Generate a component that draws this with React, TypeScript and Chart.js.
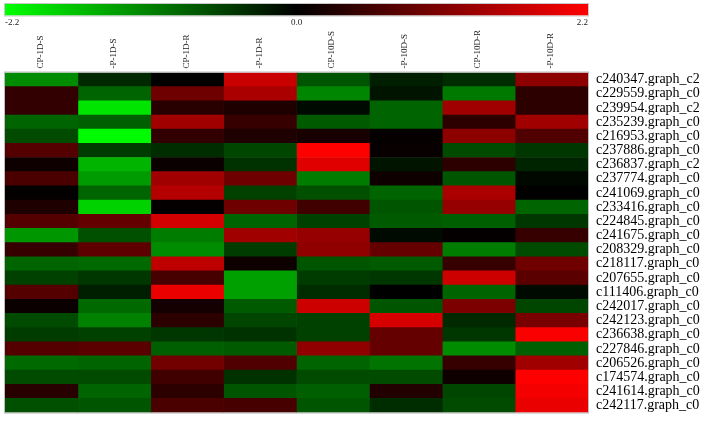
import React, { useEffect, useRef } from 'react';
import { Chart, registerables } from 'chart.js';

Chart.register(...registerables);

// Column (sample) labels, shown rotated above the heatmap
const COLUMNS = ['CP-1D-S', '-P-1D-S', 'CP-1D-R', '-P-1D-R', 'CP-10D-S', '-P-10D-S', 'CP-10D-R', '-P-10D-R'];

// Row (gene) labels, shown on the right
const GENES = [
  'c240347.graph_c2', 'c229559.graph_c0', 'c239954.graph_c2', 'c235239.graph_c0',
  'c216953.graph_c0', 'c237886.graph_c0', 'c236837.graph_c2', 'c237774.graph_c0',
  'c241069.graph_c0', 'c233416.graph_c0', 'c224845.graph_c0', 'c241675.graph_c0',
  'c208329.graph_c0', 'c218117.graph_c0', 'c207655.graph_c0', 'c111406.graph_c0',
  'c242017.graph_c0', 'c242123.graph_c0', 'c236638.graph_c0', 'c227846.graph_c0',
  'c206526.graph_c0', 'c174574.graph_c0', 'c241614.graph_c0', 'c242117.graph_c0',
];

// Colour scale
const SCALE_MIN = -2.2;
const SCALE_MAX = 2.2;
const SCALE_TICK_VALUES = [-2.2, 0, 2.2];
const SCALE_TICK_LABELS = ['-2.2', '0.0', '2.2'];

// Expression values per column (top row first)
const CP_1D_S = [-1.21, 0.43, 0.43, -0.86, -0.65, 0.73, 0.13, 0.65, 0.03, 0.26, 0.73, -1.29, 0.47, -0.86, -0.56, 0.73, 0.09, -0.65, -0.52, 0.73, -0.91, -0.65, 0.35, -0.69];
const P_1D_S = [-0.35, -0.86, -1.98, -0.82, -2.16, -0.52, -1.55, -1.34, -0.86, -1.81, 0.86, -0.69, 0.82, -0.91, -0.47, -0.26, -0.91, -1.12, -0.56, 0.78, -0.86, -0.65, -0.86, -0.73];
const CP_1D_R = [0.0, 0.95, 0.35, 1.38, 0.43, -0.39, 0.09, 1.38, 1.55, 0.04, 1.81, -1.08, -1.21, 1.64, 0.6, 2.03, 0.17, 0.39, -0.47, -0.82, 0.99, 0.56, 0.39, 0.65];
const P_1D_R = [1.73, 1.47, 0.26, 0.47, 0.26, -0.6, -0.43, 0.95, -0.56, 0.95, -0.86, 1.38, -0.52, 0.13, -1.38, -1.38, -0.78, -0.6, -0.43, -0.78, 0.69, -0.43, -0.73, 0.6];
const CP_10D_S = [-0.73, -1.16, -0.09, -0.78, 0.22, 2.2, 1.94, -1.08, -0.69, 0.56, -0.56, 1.29, 1.25, -0.73, -0.52, -0.39, 1.77, -0.56, -0.56, 1.25, -0.86, -0.65, -0.82, -0.73];
const P_10D_S = [-0.26, -0.17, -0.86, -0.86, 0.04, 0.07, -0.17, 0.13, -0.86, -0.73, -0.78, -0.09, 0.86, -0.78, -0.47, 0.0, -0.73, 1.85, 0.86, 0.86, -0.99, -0.65, 0.3, -0.39];
const CP_10D_R = [-0.39, -1.04, 1.38, 0.39, 1.21, -0.65, 0.39, -0.73, 1.47, 1.29, -0.82, 0.04, -1.08, 0.47, 1.77, -0.86, 1.08, -0.35, -0.47, -1.21, 0.47, 0.13, -0.6, -0.65];
const P_10D_R = [1.21, 0.39, 0.39, 1.38, 0.69, -0.47, -0.3, -0.07, 0.0, -0.86, -0.47, 0.47, -0.65, 0.95, 0.78, -0.09, -0.6, 1.04, 2.16, -0.82, 1.38, 2.2, 2.11, 2.03];

const COLUMN_VALUES = [CP_1D_S, P_1D_S, CP_1D_R, P_1D_R, CP_10D_S, P_10D_S, CP_10D_R, P_10D_R];

function valueColor(v: number): string {
  const t = Math.max(-1, Math.min(1, v >= 0 ? v / SCALE_MAX : v / -SCALE_MIN));
  if (t >= 0) return `rgb(${Math.round(255 * t)},0,0)`;
  return `rgb(0,${Math.round(255 * -t)},0)`;
}

const colorBarPlugin = {
  id: 'colorBar',
  afterDraw(chart: any) {
    const { ctx, chartArea } = chart;
    const x0 = chartArea.left;
    const x1 = chartArea.right;
    ctx.save();
    // heatmap outline
    ctx.strokeStyle = 'rgba(190,190,190,1)';
    ctx.lineWidth = 1;
    ctx.strokeRect(x0 - 0.5, chartArea.top - 0.5, x1 - x0 + 1, chartArea.bottom - chartArea.top + 1);
    // colour bar
    const barTop = 4;
    const barH = 11.5;
    const g = ctx.createLinearGradient(x0, 0, x1, 0);
    g.addColorStop(0, 'rgb(0,255,0)');
    g.addColorStop(0.5, 'rgb(0,0,0)');
    g.addColorStop(1, 'rgb(255,0,0)');
    ctx.fillStyle = g;
    ctx.fillRect(x0, barTop, x1 - x0, barH);
    ctx.strokeStyle = 'rgba(200,200,200,1)';
    ctx.strokeRect(x0 - 0.5, barTop - 0.5, x1 - x0 + 1, barH + 1);
    // tick labels
    ctx.fillStyle = '#222';
    ctx.font = '9px "Liberation Serif", serif';
    ctx.textBaseline = 'middle';
    SCALE_TICK_VALUES.forEach((v, i) => {
      const x = x0 + ((v - SCALE_MIN) / (SCALE_MAX - SCALE_MIN)) * (x1 - x0);
      ctx.textAlign = i === 0 ? 'left' : i === SCALE_TICK_VALUES.length - 1 ? 'right' : 'center';
      ctx.fillText(SCALE_TICK_LABELS[i], x, 23);
    });
    ctx.restore();
  },
};

export default function App() {
  const canvasRef = useRef<HTMLCanvasElement | null>(null);

  useEffect(() => {
    if (!canvasRef.current) return;
    const datasets = COLUMN_VALUES.map((vals, j) => ({
      label: COLUMNS[j],
      data: vals.map(() => [j, j + 1]),
      backgroundColor: vals.map(valueColor),
      borderWidth: 0,
      barPercentage: 1,
      categoryPercentage: 1,
      grouped: false,
      xAxisID: 'x',
      yAxisID: 'y',
    }));

    const chart = new Chart(canvasRef.current, {
      type: 'bar',
      data: { labels: GENES, datasets: datasets as any },
      options: {
        indexAxis: 'y',
        responsive: false,
        animation: false,
        layout: { padding: { left: 5, right: 0, top: 0, bottom: 6 } },
        plugins: { legend: { display: false }, tooltip: { enabled: false } },
        scales: {
          x: { type: 'linear', min: 0, max: COLUMNS.length, display: false },
          xTop: {
            type: 'category',
            axis: 'x',
            position: 'top',
            labels: COLUMNS,
            offset: true,
            grid: { display: false, drawTicks: false },
            border: { display: false },
            ticks: {
              autoSkip: false,
              minRotation: 90,
              maxRotation: 90,
              padding: 4,
              labelOffset: 10,
              color: '#222',
              font: { family: '"Liberation Serif", serif', size: 9 },
            },
            afterFit: (s: any) => { s.height = 72.5; },
          },
          y: {
            type: 'category',
            position: 'right',
            offset: true,
            grid: { display: false, drawTicks: false },
            border: { display: false },
            ticks: {
              autoSkip: false,
              padding: 8,
              color: '#000',
              font: { family: '"Liberation Serif", serif', size: 14 },
            },
            afterFit: (s: any) => { s.width = 120; },
          },
        } as any,
      },
      plugins: [colorBarPlugin],
    });
    return () => chart.destroy();
  }, []);

  return (
    <div style={{ position: 'fixed', left: 0, top: 0, width: 708, height: 429, background: '#fff' }}>
      <canvas ref={canvasRef} width={708} height={429} style={{ display: 'block' }} />
    </div>
  );
}
